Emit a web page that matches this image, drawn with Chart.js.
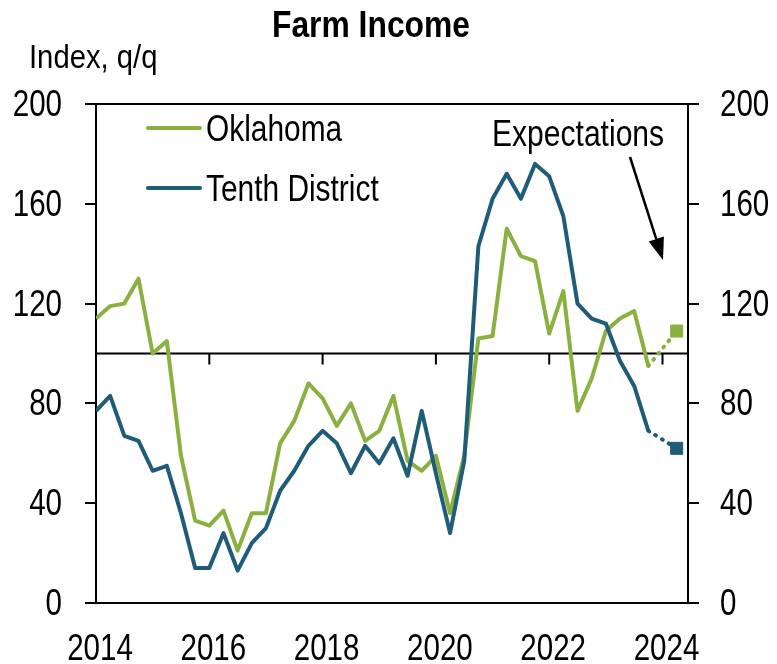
<!DOCTYPE html>
<html>
<head>
<meta charset="utf-8">
<title>Farm Income</title>
<script src="https://cdn.jsdelivr.net/npm/chart.js@4.4.1/dist/chart.umd.min.js"></script>
<style>
  html, body { margin: 0; padding: 0; background: #fff; }
  #wrap { width: 777px; height: 664px; }
</style>
</head>
<body>
<div id="wrap"><canvas id="farm-chart" width="777" height="664"></canvas></div>
<script>
// Farm Income: quarterly index, Oklahoma vs Tenth District (with expectations)

const quarters = [
    '2014Q1', '2014Q2', '2014Q3', '2014Q4',
    '2015Q1', '2015Q2', '2015Q3', '2015Q4',
    '2016Q1', '2016Q2', '2016Q3', '2016Q4',
    '2017Q1', '2017Q2', '2017Q3', '2017Q4',
    '2018Q1', '2018Q2', '2018Q3', '2018Q4',
    '2019Q1', '2019Q2', '2019Q3', '2019Q4',
    '2020Q1', '2020Q2', '2020Q3', '2020Q4',
    '2021Q1', '2021Q2', '2021Q3', '2021Q4',
    '2022Q1', '2022Q2', '2022Q3', '2022Q4',
    '2023Q1', '2023Q2', '2023Q3', '2023Q4'
];

const oklahoma = [
    114, 119, 120, 130, 100, 105, 59, 33, 31, 37,
    21, 36, 36, 64, 73, 88, 82, 71, 80, 65,
    69, 83, 57, 53, 59, 36, 59, 106, 107, 150,
    139, 137, 108, 125, 77, 90, 109, 114, 117, 95
];

const tenthDistrict = [
    77, 83, 67, 65, 53, 55, 36, 14, 14, 28,
    13, 24, 30, 45, 53, 63, 69, 64, 52, 63,
    56, 66, 51, 77, 52, 28, 57, 143, 162, 172,
    162, 176, 171, 155, 120, 114, 112, 97, 87, 69
];

// last reported quarter and the expected quarter
const expectQuarters = ['2023Q4', '2024Q2'];
const oklahomaExpect = [95, 109];
const tenthExpect = [69, 62];

const yTicks = [0, 40, 80, 120, 160, 200];
const xTicks = [2014, 2016, 2018, 2020, 2022, 2024];
const refValue = 100;

const GREEN = '#8AB13F';
const BLUE = '#1E5C78';
const FONT = "'Liberation Sans', Arial, sans-serif";
const SQUEEZE = 0.82; // the original uses a condensed face

// turn '2016Q3' into a decimal year
function toYear(q) {
    return Number(q.slice(0, 4)) + (Number(q.slice(5)) - 1) / 4;
}

function toPoints(labels, values) {
    return labels.map((q, i) => ({ x: toYear(q), y: values[i] }));
}

// draw text squeezed horizontally
function narrowText(ctx, text, x, y, align, font, squeeze) {
    ctx.save();
    ctx.font = font;
    ctx.textAlign = align;
    ctx.textBaseline = 'alphabetic';
    ctx.translate(x, y);
    ctx.scale(squeeze || SQUEEZE, 1);
    ctx.fillText(text, 0, 0);
    ctx.restore();
}

// top border, the 100 reference line and its year ticks
const frameLines = {
    id: 'frameLines',
    beforeDatasetsDraw(chart) {
        const { ctx, chartArea, scales } = chart;
        const y100 = scales.y.getPixelForValue(refValue);
        ctx.save();
        ctx.strokeStyle = '#000';
        ctx.lineWidth = 2;
        ctx.beginPath();
        ctx.moveTo(chartArea.left, chartArea.top);
        ctx.lineTo(chartArea.right, chartArea.top);
        ctx.moveTo(chartArea.left, y100);
        ctx.lineTo(chartArea.right, y100);
        xTicks.forEach(v => {
            const x = scales.x.getPixelForValue(v);
            ctx.moveTo(x, y100);
            ctx.lineTo(x, y100 + 11);
        });
        ctx.stroke();
        ctx.restore();
    }
};

// tick labels, title, unit label, legend and the "Expectations" note
const textLayer = {
    id: 'textLayer',
    afterDraw(chart) {
        const ctx = chart.ctx;
        const { x, y, y2 } = chart.scales;
        const tickFont = '36px ' + FONT;
        ctx.save();
        ctx.fillStyle = '#000';

        x.ticks.forEach(t => {
            narrowText(ctx, String(t.value), x.getPixelForValue(t.value) + 4, 660, 'center', tickFont);
        });
        y.ticks.forEach(t => {
            const py = y.getPixelForValue(t.value) + 12;
            narrowText(ctx, String(t.value), 62, py, 'right', tickFont);
        });
        y2.ticks.forEach(t => {
            const py = y2.getPixelForValue(t.value) + 12;
            narrowText(ctx, String(t.value), 720, py, 'left', tickFont);
        });

        narrowText(ctx, 'Farm Income', 371, 37, 'center', 'bold 37px ' + FONT, 0.86);
        narrowText(ctx, 'Index, q/q', 29, 68, 'left', '34px ' + FONT, 0.86);

        // legend built from the solid datasets
        const items = chart.data.datasets.filter(d => !d.expectation)
            .sort((a, b) => a.legendRank - b.legendRank);
        items.forEach((d, i) => {
            const ly = 128 + i * 60;
            ctx.strokeStyle = d.borderColor;
            ctx.lineWidth = 4;
            ctx.lineCap = 'round';
            ctx.beginPath();
            ctx.moveTo(148, ly);
            ctx.lineTo(200, ly);
            ctx.stroke();
            narrowText(ctx, d.label, 206, ly + 13, 'left', tickFont, 0.83);
        });

        narrowText(ctx, 'Expectations', 492, 146, 'left', tickFont, 0.835);

        // arrow pointing at the expectation markers
        const x0 = 630, y0 = 157, x1 = 663, y1 = 260;
        const ang = Math.atan2(y1 - y0, x1 - x0);
        const head = 22, half = 8;
        const bx = x1 - head * Math.cos(ang), by = y1 - head * Math.sin(ang);
        ctx.strokeStyle = '#000';
        ctx.lineWidth = 2.5;
        ctx.lineCap = 'butt';
        ctx.beginPath();
        ctx.moveTo(x0, y0);
        ctx.lineTo(bx, by);
        ctx.stroke();
        ctx.beginPath();
        ctx.moveTo(x1, y1);
        ctx.lineTo(bx + half * Math.sin(ang), by - half * Math.cos(ang));
        ctx.lineTo(bx - half * Math.sin(ang), by + half * Math.cos(ang));
        ctx.closePath();
        ctx.fill();
        ctx.restore();
    }
};

Chart.defaults.font.family = FONT;
Chart.defaults.color = '#000';

const hiddenTicks = { font: { size: 36 }, color: 'rgba(0,0,0,0)' };

const yAxisBase = {
    type: 'linear',
    min: 0,
    max: 200,
    afterBuildTicks: scale => { scale.ticks = yTicks.map(v => ({ value: v })); },
    grid: { drawOnChartArea: false, drawTicks: true, tickLength: 11, color: '#000', lineWidth: 2 },
    border: { display: true, color: '#000', width: 2 },
    ticks: hiddenTicks
};

const ctx = document.getElementById('farm-chart').getContext('2d');
new Chart(ctx, {
    type: 'line',
    data: {
        datasets: [
            {
                label: 'Tenth District',
                legendRank: 1,
                data: toPoints(quarters, tenthDistrict),
                borderColor: BLUE,
                borderWidth: 4,
                borderJoinStyle: 'round',
                pointRadius: 0,
                order: 0
            },
            {
                label: 'Oklahoma',
                legendRank: 0,
                data: toPoints(quarters, oklahoma),
                borderColor: GREEN,
                borderWidth: 4,
                borderJoinStyle: 'round',
                pointRadius: 0,
                order: 1
            },
            {
                label: 'Tenth District expectation',
                expectation: true,
                data: toPoints(expectQuarters, tenthExpect),
                borderColor: BLUE,
                backgroundColor: BLUE,
                borderWidth: 4,
                borderDash: [1, 7],
                borderCapStyle: 'round',
                pointStyle: 'rect',
                pointRadius: [0, 8.5],
                pointBorderWidth: 1,
                order: 2
            },
            {
                label: 'Oklahoma expectation',
                expectation: true,
                data: toPoints(expectQuarters, oklahomaExpect),
                borderColor: GREEN,
                backgroundColor: GREEN,
                borderWidth: 4,
                borderDash: [1, 7],
                borderCapStyle: 'round',
                pointStyle: 'rect',
                pointRadius: [0, 8.5],
                pointBorderWidth: 1,
                order: 3
            }
        ]
    },
    options: {
        responsive: false,
        devicePixelRatio: 1,
        animation: false,
        layout: { padding: { top: 104, left: 0, right: 0, bottom: 0 } },
        plugins: {
            legend: { display: false },
            tooltip: { enabled: false },
            title: { display: false }
        },
        scales: {
            x: {
                type: 'linear',
                min: 2014,
                max: 2024.45,
                afterBuildTicks: scale => { scale.ticks = xTicks.map(v => ({ value: v })); },
                afterFit: scale => { scale.height = 61; },
                grid: { display: true, drawOnChartArea: false, drawTicks: false, color: 'rgba(0,0,0,0)' },
                border: { display: true, color: '#000', width: 2 },
                ticks: Object.assign({ maxRotation: 0, callback: v => String(v) }, hiddenTicks)
            },
            y: Object.assign({}, yAxisBase, {
                position: 'left',
                afterFit: scale => { scale.width = 96; }
            }),
            y2: Object.assign({}, yAxisBase, {
                position: 'right',
                afterFit: scale => { scale.width = 89; }
            })
        }
    },
    plugins: [frameLines, textLayer]
});
</script>
</body>
</html>
